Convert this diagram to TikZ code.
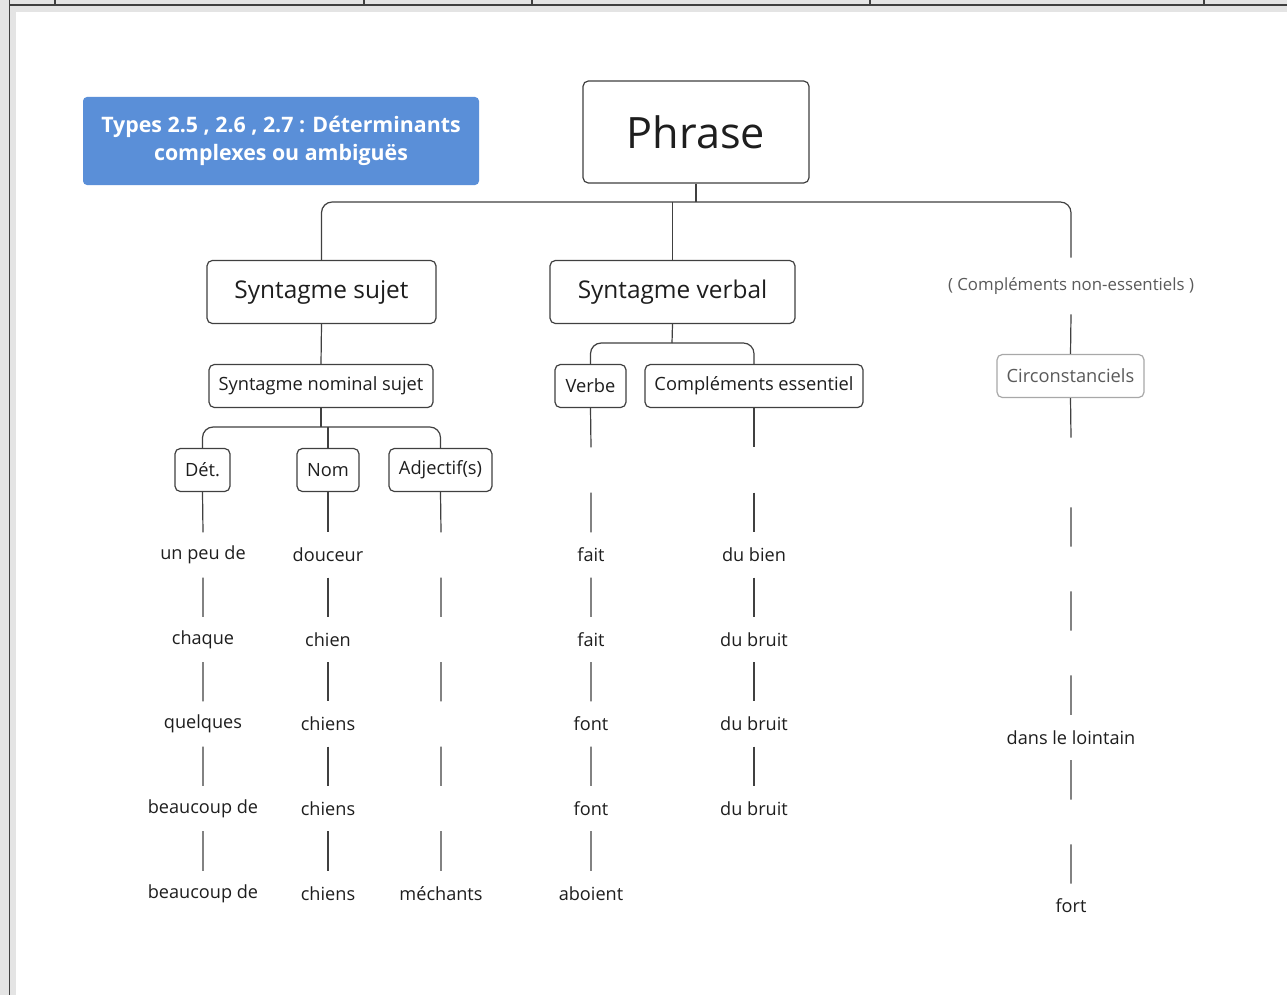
\documentclass[tikz,border=0pt]{standalone}
\usepackage{fontspec}
\setmainfont{Open Sans}
\definecolor{linegray}{HTML}{404040}
\definecolor{textdark}{HTML}{1E1E1E}
\definecolor{softgray}{HTML}{5A5A5A}
\definecolor{boxgray}{HTML}{A8A8A8}
\definecolor{titleblue}{HTML}{5A8FD8}
\definecolor{framegray}{HTML}{E4E4E4}

\begin{document}
\begin{tikzpicture}[x=0.75pt,y=-0.75pt,
    box/.style={draw=linegray, line width=0.9pt, rounded corners=4pt, inner sep=0pt,
                text=textdark, minimum height=32.25pt, font=\fontsize{13.7}{16}\selectfont},
    word/.style={inner sep=0pt, minimum height=33.5pt, text=textdark,
                 font=\fontsize{13.6}{16}\selectfont},
    conn/.style={draw=linegray, line width=0.9pt}]
    % frame of the screen
    \useasboundingbox (0,0) rectangle (1287,995);
    \fill[framegray] (0,0) rectangle (1287,995);
    \fill[white] (16,12) rectangle (1287,995);
    \draw[linegray, line width=1pt] (9.5,0) -- (9.5,995);
    \draw[linegray, line width=1pt] (9.5,5) -- (1287,5);
    \draw[linegray, line width=0.8pt] (55,0) -- (55,5) (364,0) -- (364,5) (532,0) -- (532,5)
        (870,0) -- (870,5) (1204,0) -- (1204,5);

    % title
    \node[fill=titleblue, rounded corners=3pt, minimum width=297pt, minimum height=66pt,
          align=center, text=white, font=\bfseries\fontsize{16}{21}\selectfont]
          (types) at (281,141) {Types 2.5 , 2.6 , 2.7 : Déterminants\\complexes ou ambiguës};

    % boxes
    \node[box, minimum width=169.5pt, minimum height=76.5pt, font=\fontsize{32.4}{38}\selectfont]
          (phrase) at (696,132) {Phrase};
    \node[box, minimum width=171.75pt, minimum height=47.25pt, font=\fontsize{18.3}{21}\selectfont]
          (sujet) at (321.5,292) {Syntagme sujet};
    \node[box, minimum width=183.75pt, minimum height=47.25pt, font=\fontsize{18.3}{21}\selectfont]
          (verbal) at (672.5,292) {Syntagme verbal};
    \node[inner sep=0pt, minimum height=42pt, text=softgray, font=\fontsize{12.6}{15}\selectfont]
          (cne) at (1071,286) {( Compléments non-essentiels )};
    \node[box, draw=boxgray, text=softgray, minimum width=110.25pt, font=\fontsize{13.7}{16}\selectfont]
          (circ) at (1070.5,376) {Circonstanciels};
    \node[box, minimum width=168pt] (nominal) at (321,386) {Syntagme nominal sujet};
    \node[box, minimum width=53.25pt] (verbe) at (590.5,386) {Verbe};
    \node[box, minimum width=163.5pt] (compl) at (754,386) {Compléments essentiel};
    \node[box, minimum width=41.25pt] (det) at (202.5,470) {Dét.};
    \node[box, minimum width=46.5pt] (nom) at (328,470) {Nom};
    \node[box, minimum width=77.25pt] (adj) at (440.5,470) {Adjectif(s)};

    % words
    \node[word] (det1) at (203,555) {un peu de};
    \node[word] (det2) at (203,639.5) {chaque};
    \node[word] (det3) at (203,724) {quelques};
    \node[word] (det4) at (203,808.5) {beaucoup de};
    \node[word] (det5) at (203,893.5) {beaucoup de};

    \node[word] (nom1) at (328,555) {douceur};
    \node[word] (nom2) at (328,639.5) {chien};
    \node[word] (nom3) at (328,724) {chiens};
    \node[word] (nom4) at (328,808.5) {chiens};
    \node[word] (nom5) at (328,893.5) {chiens};

    \node[word] (adj1) at (441,555) {};
    \node[word] (adj2) at (441,639.5) {};
    \node[word] (adj3) at (441,724) {};
    \node[word] (adj4) at (441,808.5) {};
    \node[word] (adj5) at (441,893.5) {méchants};

    \node[word] (verbe0) at (591,470) {};
    \node[word] (verbe1) at (591,555) {fait};
    \node[word] (verbe2) at (591,639.5) {fait};
    \node[word] (verbe3) at (591,724) {font};
    \node[word] (verbe4) at (591,808.5) {font};
    \node[word] (verbe5) at (591,893.5) {aboient};

    \node[word] (compl0) at (754,470) {};
    \node[word] (compl1) at (754,555) {du bien};
    \node[word] (compl2) at (754,639.5) {du bruit};
    \node[word] (compl3) at (754,724) {du bruit};
    \node[word] (compl4) at (754,808.5) {du bruit};

    \node[word, minimum height=51.75pt] (circ1) at (1071,472.5) {};
    \node[word, minimum height=33pt] (circ2) at (1071,569) {};
    \node[word, minimum height=33pt] (circ3) at (1071,653) {};
    \node[word] (circ4) at (1071,737.5) {dans le lointain};
    \node[word, minimum height=33pt] (circ5) at (1071,822) {};
    \node[word, minimum height=33pt] (circ6) at (1071,906) {fort};

    % branches
    \coordinate (bus) at (696,202);
    \coordinate (nbus) at (321,427);
    \coordinate (vbus) at (672,343);
    \draw[conn] (phrase.south) -- (bus);
    \draw[conn, rounded corners=8pt] (sujet.north) |- (bus) -| (cne.north);
    \draw[conn] (verbal.north) -- (verbal.north |- bus);
    \draw[conn] (cne.south) -- (circ.north);
    \draw[conn] (sujet.south) -- (nominal.north);
    \draw[conn] (nominal.south) -- (nbus);
    \draw[conn, rounded corners=8pt] (det.north) |- (nbus) -| (adj.north);
    \draw[conn] (nom.north) -- (nom.north |- nbus);
    \draw[conn] (verbal.south) -- (vbus);
    \draw[conn, rounded corners=8pt] (verbe.north) |- (vbus) -| (compl.north);

    % columns
    \draw[conn] (det.south) -- (det1.north) (det1.south) -- (det2.north) (det2.south) -- (det3.north)
        (det3.south) -- (det4.north) (det4.south) -- (det5.north);
    \draw[conn] (nom.south) -- (nom1.north) (nom1.south) -- (nom2.north) (nom2.south) -- (nom3.north)
        (nom3.south) -- (nom4.north) (nom4.south) -- (nom5.north);
    \draw[conn] (adj.south) -- (adj1.north) (adj1.south) -- (adj2.north) (adj2.south) -- (adj3.north)
        (adj3.south) -- (adj4.north) (adj4.south) -- (adj5.north);
    \draw[conn] (verbe.south) -- (verbe0.north) (verbe0.south) -- (verbe1.north)
        (verbe1.south) -- (verbe2.north) (verbe2.south) -- (verbe3.north)
        (verbe3.south) -- (verbe4.north) (verbe4.south) -- (verbe5.north);
    \draw[conn] (compl.south) -- (compl0.north) (compl0.south) -- (compl1.north)
        (compl1.south) -- (compl2.north) (compl2.south) -- (compl3.north)
        (compl3.south) -- (compl4.north);
    \draw[conn] (circ.south) -- (circ1.north) (circ1.south) -- (circ2.north)
        (circ2.south) -- (circ3.north) (circ3.south) -- (circ4.north)
        (circ4.south) -- (circ5.north) (circ5.south) -- (circ6.north);
\end{tikzpicture}
\end{document}
